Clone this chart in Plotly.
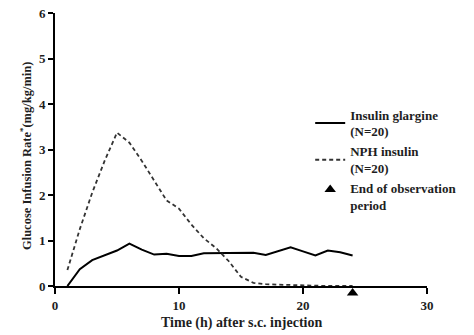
import plotly.graph_objects as go

# Hourly glucose infusion rate (mg/kg/min) after s.c. injection
hours = list(range(1, 25))
glargine = [0.0, 0.37, 0.57, 0.68, 0.78, 0.93, 0.80, 0.69, 0.71, 0.66, 0.66, 0.72,
            0.72, 0.72, 0.73, 0.73, 0.68, 0.77, 0.85, 0.76, 0.67, 0.78, 0.74, 0.67]
nph = [0.35, 1.25, 2.05, 2.75, 3.37, 3.15, 2.75, 2.30, 1.88, 1.70, 1.35, 1.05,
       0.83, 0.55, 0.20, 0.07, 0.04, 0.03, 0.02, 0.01, 0.01, 0.0, 0.0, 0.0]
end_obs_x = [24]
end_obs_y = [0]

x_ticks = [0, 10, 20, 30]
y_ticks = [0, 1, 2, 3, 4, 5, 6]

FONT = "Liberation Serif"
INK = "#1e1e1e"

fig = go.Figure()
fig.add_trace(go.Scatter(
    x=hours, y=glargine, mode="lines", name="<b>Insulin glargine<br>(N=20)</b>",
    line=dict(color="black", width=2), cliponaxis=False,
))
fig.add_trace(go.Scatter(
    x=hours, y=nph, mode="lines", name="<b>NPH insulin<br>(N=20)</b>",
    line=dict(color="#333333", width=1.8, dash="4px,3px"), cliponaxis=False,
))
# marker sits just under the time axis, pushed off the zero line
fig.add_trace(go.Scatter(
    x=end_obs_x, y=end_obs_y, mode="markers", name="<b>End of observation<br>period</b>",
    marker=dict(symbol="triangle-up", angle=0, standoff=7, size=10, color="black"),
    cliponaxis=False,
))

fig.update_layout(
    width=474, height=335,
    margin=dict(l=55, r=47, t=13, b=49, autoexpand=False),
    paper_bgcolor="white", plot_bgcolor="white",
    font=dict(family=FONT, size=12.5, color=INK),
    showlegend=True,
    legend=dict(
        x=0.686, y=0.683, xanchor="left", yanchor="top",
        bgcolor="rgba(0,0,0,0)", font=dict(family=FONT, size=13, color=INK),
        itemwidth=30, tracegroupgap=0,
    ),
    xaxis=dict(
        range=[0, 30], tickvals=x_ticks, ticktext=[f"<b>{v}</b>" for v in x_ticks],
        showgrid=False, zeroline=False, showline=True, linecolor="black", linewidth=2,
        ticks="outside", ticklen=6, tickwidth=2, tickcolor="black",
        tickfont=dict(size=13), automargin=False,
    ),
    yaxis=dict(
        range=[0, 6], tickvals=y_ticks, ticktext=[f"<b>{v}</b>" for v in y_ticks],
        showgrid=False, zeroline=False, showline=True, linecolor="black", linewidth=2,
        ticks="outside", ticklen=5, tickwidth=2, tickcolor="black",
        tickfont=dict(size=13), automargin=False,
    ),
    annotations=[
        dict(
            text="<b>Glucose Infusion Rate<sup>*</sup>(mg/kg/min)</b>",
            xref="paper", yref="paper", x=-0.078, y=0.476,
            xanchor="center", yanchor="middle", textangle=-90, showarrow=False,
            font=dict(family=FONT, size=12.5, color=INK),
        ),
        dict(
            text="<b>Time (h) after s.c. injection</b>",
            xref="paper", yref="paper", x=0.5, y=-0.136,
            xanchor="center", yanchor="middle", showarrow=False,
            font=dict(family=FONT, size=14, color=INK),
        ),
    ],
)

fig.write_html("out.html")
